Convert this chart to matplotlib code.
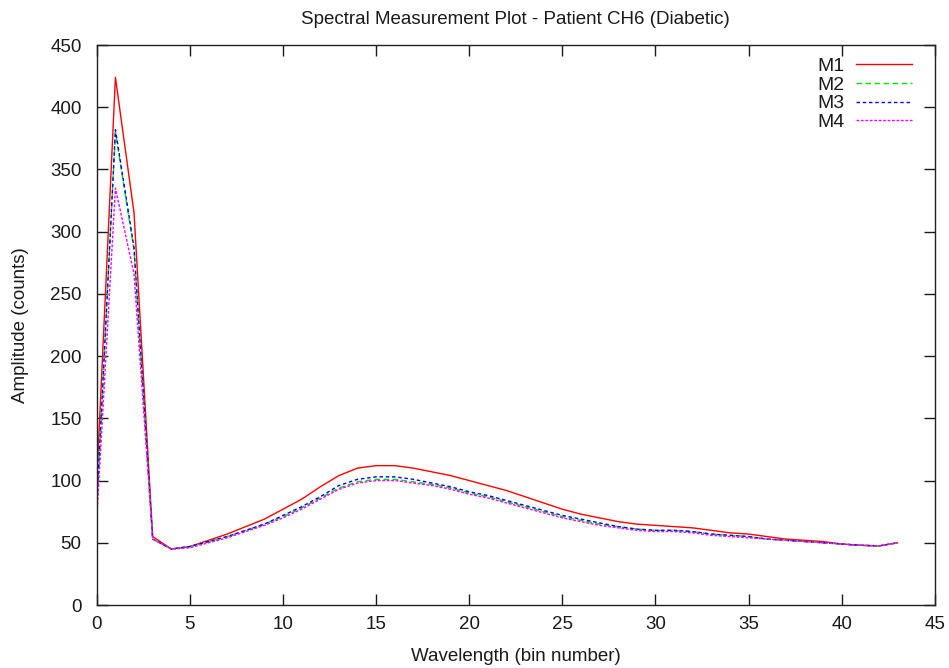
import matplotlib
matplotlib.use("Agg")
import matplotlib.pyplot as plt
import numpy as np

plt.rcParams.update({
    'font.family': ['Liberation Sans', 'DejaVu Sans'],
    'font.size': 13.5,
    'text.color': '#1a1a1a',
    'axes.labelcolor': '#1a1a1a',
    'xtick.color': '#1a1a1a',
    'ytick.color': '#1a1a1a',
})

# bin numbers 0..43
bins = list(range(44))

m1 = [100, 424, 315, 55, 45, 47, 52, 57, 63, 69, 77, 85, 95, 104, 110, 112,
      112, 110, 107, 104, 100, 96, 92, 87, 82, 77, 73, 70, 67, 65, 64, 63,
      62, 60, 58, 57, 55, 53, 52, 51, 49, 48, 47.5, 50]
m2 = [80, 380, 285, 53, 45, 47, 51, 55, 60, 65, 71, 78, 86, 94, 99, 101,
      101, 99, 97, 94, 90, 87, 83, 79, 75, 71, 68, 65, 63, 61, 60, 60,
      59, 57, 56, 55, 53, 52, 51, 50, 49, 48, 47.5, 50]
m3 = [80, 382, 287, 53, 45, 47, 51, 55, 60, 65, 72, 79, 87, 96, 101, 103,
      103, 101, 98, 95, 91, 88, 84, 80, 76, 72, 69, 66, 63, 61, 60, 60,
      59, 57, 56, 55, 53, 52, 51, 50, 49, 48, 47.5, 50]
m4 = [70, 335, 266, 53, 45, 46, 50, 54, 59, 64, 70, 77, 85, 93, 98, 100,
      100, 98, 96, 93, 89, 86, 82, 78, 74, 70, 67, 64, 62, 60, 59, 59,
      58, 56, 55, 54, 53, 52, 51, 50, 49, 48, 47.5, 50]

series = [("M1", m1, "#ff0000", "-"),
          ("M2", m2, "#00e000", (0, (4, 2.5))),
          ("M3", m3, "#0000ff", (0, (2.5, 2))),
          ("M4", m4, "#ff00ff", (0, (2, 1.2)))]

fig = plt.figure(figsize=(9.49, 6.68), dpi=100)
ax = fig.add_axes([0.102, 0.0943, 0.883, 0.8383])

for name, vals, col, ls in series:
    ax.plot(bins, vals, color=col, linestyle=ls, linewidth=1.0, label=name)

ax.set_xlim(0, 45)
ax.set_ylim(0, 450)
ax.set_xticks(np.arange(0, 46, 5))
ax.set_yticks(np.arange(0, 451, 50))
ax.tick_params(direction='in', length=8, width=1, top=True, right=True, labelsize=13.5)
ax.tick_params(axis='x', pad=8)
ax.tick_params(axis='y', pad=11)
for s in ax.spines.values():
    s.set_linewidth(1)
    s.set_color('#222222')

ax.set_xlabel("Wavelength (bin number)", labelpad=11)
ax.set_ylabel("Amplitude (counts)", labelpad=15)
ax.set_title("Spectral Measurement Plot - Patient CH6 (Diabetic)", fontsize=13.5, pad=15)

ax.legend(loc='upper right', bbox_to_anchor=(0.985, 0.995), frameon=False,
          markerfirst=False, handlelength=2.9, fontsize=14, labelspacing=0.05,
          borderaxespad=0.2, borderpad=0.3, handletextpad=0.6)

fig.savefig("out.png", dpi=100, facecolor='white')
